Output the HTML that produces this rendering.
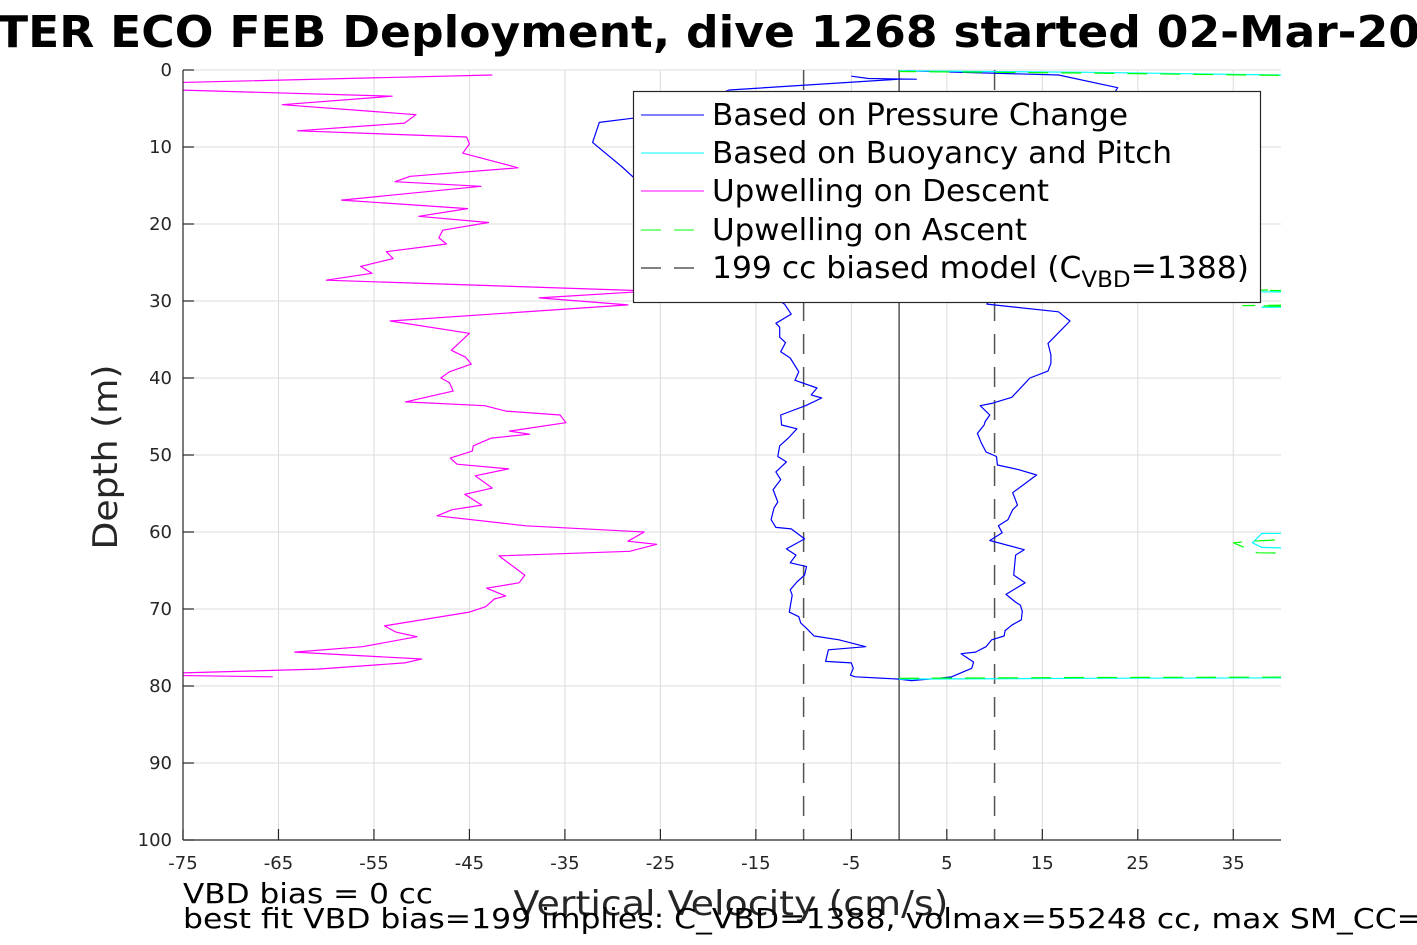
<!DOCTYPE html>
<html><head><meta charset="utf-8"><style>
html,body{margin:0;padding:0;background:#fff;}
svg{display:block;font-family:"DejaVu Sans","Liberation Sans",sans-serif;}
</style></head><body>
<svg id="chart" width="1417" height="945" viewBox="0 0 1417 945" xmlns="http://www.w3.org/2000/svg">
<defs><clipPath id="plotclip"><rect x="183" y="70" width="1098" height="770"/></clipPath></defs>
<text x="-3" y="47" font-size="44" font-weight="bold" textLength="1423" lengthAdjust="spacingAndGlyphs">TER ECO FEB Deployment, dive 1268 started 02-Mar-20</text>
<g id="grid"></g>
<g id="marks" clip-path="url(#plotclip)"></g>
<g id="axes"></g>
<g id="legend">
<rect x="633.5" y="91.5" width="627" height="211" fill="#fff" stroke="#262626" stroke-width="1.2"/>
<line x1="641" y1="115" x2="704" y2="115" stroke="#0000ff" stroke-width="1"/>
<text x="712" y="125" font-size="30" textLength="416" lengthAdjust="spacingAndGlyphs">Based on Pressure Change</text>
<line x1="641" y1="153" x2="704" y2="153" stroke="#00ffff" stroke-width="1"/>
<text x="712" y="163" font-size="30" textLength="460" lengthAdjust="spacingAndGlyphs">Based on Buoyancy and Pitch</text>
<line x1="641" y1="191" x2="704" y2="191" stroke="#ff00ff" stroke-width="1"/>
<text x="712" y="201" font-size="30" textLength="337" lengthAdjust="spacingAndGlyphs">Upwelling on Descent</text>
<line x1="641" y1="230" x2="696" y2="230" stroke="#00ff00" stroke-width="1" stroke-dasharray="20 13"/>
<text x="712" y="240" font-size="30" textLength="315" lengthAdjust="spacingAndGlyphs">Upwelling on Ascent</text>
<line x1="641" y1="268" x2="696" y2="268" stroke="#000" stroke-width="1" stroke-dasharray="20 13"/>
<text x="712" y="278" font-size="30" textLength="537" lengthAdjust="spacingAndGlyphs">199 cc biased model (C<tspan font-size="22" dy="9">VBD</tspan><tspan dy="-9">=1388)</tspan></text>
</g>
<text transform="translate(117,457) rotate(-90)" text-anchor="middle" font-size="34" fill="#262626" textLength="185" lengthAdjust="spacingAndGlyphs">Depth (m)</text>
<text x="731" y="915" text-anchor="middle" font-size="34" fill="#262626" textLength="435" lengthAdjust="spacingAndGlyphs">Vertical Velocity (cm/s)</text>
<text x="183" y="903" font-size="28" textLength="250" lengthAdjust="spacingAndGlyphs">VBD bias = 0 cc</text>
<text x="183" y="928" font-size="28" textLength="1240" lengthAdjust="spacingAndGlyphs">best fit VBD bias=199 implies: C_VBD=1388, volmax=55248 cc, max SM_CC=</text>
</svg>
<script>
const xTicks = [-75,-65,-55,-45,-35,-25,-15,-5,5,15,25,35];
const yTicks = [0,10,20,30,40,50,60,70,80,90,100];
const descentV = [-42.6,-78,-78,-53.1,-64.6,-50.6,-51.8,-63,-45.3,-45,-45.7,-39.9,-51.2,-52.8,-43.8,-58.4,-45.2,-50.3,-43,-47.8,-48.2,-47.4,-53.7,-53,-56.4,-55.2,-60,-26,-37.7,-28.4,-53.3,-45,-46.9,-45.4,-44.8,-47.1,-48,-47.1,-46.7,-51.7,-43.4,-41.2,-35.5,-34.9,-40.8,-38.7,-42.7,-44.6,-44.7,-47,-46.3,-40.9,-44.4,-42.6,-45.5,-43.7,-46.8,-48.4,-39.1,-26.7,-28.4,-25.4,-28.2,-41.9,-39.2,-39.8,-43.2,-41.2,-42.4,-43.3,-45,-53.9,-52.7,-50.5,-56.2,-63.3,-50,-51.8,-60.9,-78,-78,-65.6];
const descentD = [0.65,1.7,2.5,3.4,4.5,5.8,6.9,7.9,8.7,9.6,10.8,12.7,13.8,14.5,15.1,16.9,18,19,19.8,20.8,21.8,22.6,23.6,24.5,25.5,26.4,27.3,28.7,29.6,30.5,32.6,34.2,36.4,37.3,38.2,39.2,40,40.6,41.7,43.1,43.6,44.3,44.8,45.8,46.9,47.3,47.8,48.8,49.5,50.4,51.2,51.8,52.7,54.3,55.1,56.5,57.1,57.9,59.2,60,61.2,61.6,62.5,63.1,65.6,66.6,67.3,68.3,68.7,69.7,70.4,72.2,73,73.6,74.9,75.6,76.5,77,77.8,78.4,78.6,78.8];
const pressureV = [-5,-3.2,1.8,0,-17.8,-24.3,-31.4,-32.1,-29,-26,-22,-18,-15,-12,-11.3,-12.9,-12.5,-12.5,-11.9,-12.4,-11.4,-10.5,-10.9,-8.6,-9.2,-8.1,-9.8,-12.4,-12.3,-10.7,-11.6,-12.5,-12.7,-11.8,-12.9,-12.4,-13.2,-12.7,-13.1,-13.4,-12.9,-11.3,-9.9,-11.8,-10.8,-11.4,-9.7,-9.9,-10.7,-11.4,-11.2,-11.5,-10.5,-10.3,-9.7,-8.9,-6.3,-3.5,-7.4,-7.7,-5,-4.8,-5.1,-4.6,0,1.3,4.1,5.5,7.6,7.8,6.5,8,9.1,9.7,11,11.1,11.8,12.8,12.9,12.7,12.2,11.2,13.2,12,12.2,13.1,9.5,10.8,10.4,11.4,11.9,12.4,11.9,14.4,12.5,10.3,10.2,9.1,8.6,8.2,8.9,9,9.5,8.5,9.7,11.8,13.7,15.6,15.9,15.9,15.6,17.9,16.7,9.2,12,17,21,22.9,16.7,0.8];
const pressureD = [0.8,1.1,1.2,1.2,2.6,5.7,6.8,9.4,12.6,16,20,25,28,30.4,31.7,32.9,33.4,34.7,35.4,36.6,37.4,39.2,40.3,41.3,42.2,42.6,43.6,44.8,46.1,46.6,47.8,48.8,50.2,50.9,52.2,53.2,54.5,56.1,56.9,58.4,59.4,59.6,60.9,62.2,63,64,64.5,65.6,66.5,67.5,68.2,70.4,71,71.8,72.5,73.5,74,74.9,75.3,76.8,77,77.7,78.6,78.8,79.1,79.3,79,78.8,77.7,76.9,75.8,75.6,74.9,74,73.5,72.8,72.1,71.4,70.3,69.5,69.1,68.1,66.6,65.6,63,62.3,61.1,60.1,59.2,58.4,57.1,56.5,54.9,52.6,51.9,51.3,50.2,49.6,48.4,47.2,46.1,45.7,44.8,43.6,43.3,42.5,40,39.1,38.1,37,35.5,32.6,31.4,30.4,25,15,6,2.3,0.65,0.1];
const buoyV = [0,20,60,60,60,55,38,37,38,60,60,38,60,60,38,60,60,20,0];
const buoyD = [79.1,79.0,78.9,70,63,62.5,62.0,61.4,60.2,60,31,30.8,30.5,29.2,28.8,28.5,1,0.3,0.1];
const ascentV = [0,20,60,60,60,37.5,35,37,60,60,36,60,60,37,60,60,20,0];
const ascentD = [79.0,78.9,78.8,70,63,62.7,61.4,61.2,59.7,31,30.6,30.3,29.0,28.6,28.3,1,0.4,0.2];
const modelV = [-10,10];
const zeroV = [0];

const NS='http://www.w3.org/2000/svg';
const X0=183,X1=1281,Y0=70,Y1=840,XMIN=-75,XMAX=40,YMIN=0,YMAX=100;
function xs(v){return X0+(v-XMIN)*(X1-X0)/(XMAX-XMIN);}
function ys(d){return Y0+(d-YMIN)*(Y1-Y0)/(YMAX-YMIN);}
function mk(tag,attrs,parent){const e=document.createElementNS(NS,tag);for(const k in attrs)e.setAttribute(k,attrs[k]);parent.appendChild(e);return e;}
const grid=document.getElementById('grid'),marks=document.getElementById('marks'),axes=document.getElementById('axes');
mk('rect',{x:X0,y:Y0,width:X1-X0,height:Y1-Y0,fill:'#fff'},grid);
xTicks.forEach(t=>{const l=mk('line',{x1:xs(t),y1:Y0,x2:xs(t),y2:Y1,stroke:'#dcdcdc','stroke-width':1},grid);

});
yTicks.forEach(t=>{const l=mk('line',{x1:X0,y1:ys(t),x2:X1,y2:ys(t),stroke:'#dcdcdc','stroke-width':1},grid);

});
function poly(V,D,color,dash,name){
  const pts=V.map((v,i)=>xs(v).toFixed(1)+','+ys(D[i]).toFixed(1)).join(' ');
  const p=mk('polyline',{points:pts,fill:'none',stroke:color,'stroke-width':1.2,'stroke-linejoin':'round'},marks);
  if(dash)p.setAttribute('stroke-dasharray',dash);
  
  
}
zeroV.forEach(v=>{const l=mk('line',{x1:xs(v),y1:Y0,x2:xs(v),y2:Y1,stroke:'#000','stroke-width':1},marks);

});
modelV.forEach(v=>{const l=mk('line',{x1:xs(v),y1:Y0,x2:xs(v),y2:Y1,stroke:'#555','stroke-width':1.5,'stroke-dasharray':'20 13'},marks);

});
poly(descentV,descentD,'#ff00ff',null,'upwelling-descent-line');
poly(pressureV,pressureD,'#0000ff',null,'pressure-change-line');
poly(buoyV,buoyD,'#00ffff',null,'buoyancy-pitch-line');
poly(ascentV,ascentD,'#00ff00','20 13','upwelling-ascent-line');
const la=mk('line',{x1:X0,y1:Y0,x2:X0,y2:Y1,stroke:'#262626','stroke-width':1.2},axes);


const ba=mk('line',{x1:X0,y1:Y1,x2:X1,y2:Y1,stroke:'#262626','stroke-width':1.2},axes);


yTicks.forEach(t=>{const l=mk('line',{x1:X0,y1:ys(t),x2:X0+11,y2:ys(t),stroke:'#262626','stroke-width':1.2},axes);


const tx=mk('text',{x:172,y:ys(t)+6,'text-anchor':'end','font-size':18,fill:'#262626'},axes);tx.textContent=t;

});
xTicks.forEach(t=>{const l=mk('line',{x1:xs(t),y1:Y1,x2:xs(t),y2:Y1-11,stroke:'#262626','stroke-width':1.2},axes);


const tx=mk('text',{x:xs(t),y:869,'text-anchor':'middle','font-size':18,fill:'#262626'},axes);tx.textContent=t;

});
</script>
</body></html>
